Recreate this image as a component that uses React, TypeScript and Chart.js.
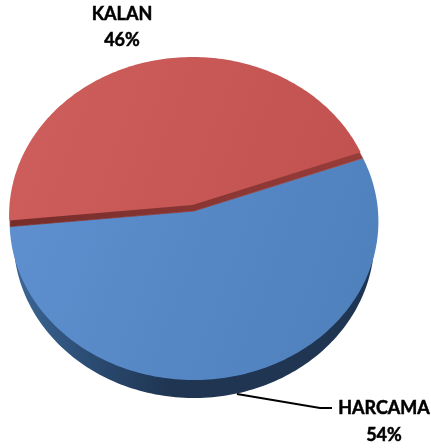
import React, { useEffect, useRef } from "react";
import { Chart, registerables } from "chart.js";

Chart.register(...registerables);

const categories = ["HARCAMA", "KALAN"];
const values = [54, 46];
const topColorStops = [
  ["#6090d0", "#4f81bd"],
  ["#cd5e5c", "#bf504d"],
];
const cutColorStops = ["#732b29", "#9c3f3c"];

const CENTER_X = [194, 192.5];
const APEX_Y = [211, 205];
const RADIUS_X = [184, 183];
const WALL_RX = 180;
const RY = 157.8;
const K = 0.0663;
const DEPTH = 18;

function sector(
  ctx: CanvasRenderingContext2D,
  a0: number,
  a1: number,
  cx: number,
  cy: number,
  rx: number
) {
  ctx.beginPath();
  ctx.moveTo(cx, cy);
  const n = 160;
  for (let i = 0; i <= n; i++) {
    const a = a0 + ((a1 - a0) * i) / n;
    const u = Math.cos(a);
    const v = -Math.sin(a);
    const w = 1 + K * v;
    ctx.lineTo(cx + (rx * u) / w, cy - (RY * v) / w);
  }
  ctx.closePath();
}

function grad(ctx: CanvasRenderingContext2D, stops: string[]) {
  const g = ctx.createLinearGradient(10, 120, 378, 260);
  g.addColorStop(0, stops[0]);
  g.addColorStop(1, stops[1]);
  return g;
}

const pie3d = {
  id: "pie3d",
  beforeDatasetsDraw(chart: any) {
    const ctx: CanvasRenderingContext2D = chart.ctx;
    const arcs = chart.getDatasetMeta(0).data;
    const blue = arcs[0];
    const red = arcs[1];
    ctx.save();
    // side wall of the large slice
    sector(ctx, blue.startAngle, blue.endAngle, CENTER_X[0], APEX_Y[0] + DEPTH, WALL_RX);
    const wall = ctx.createLinearGradient(20, 0, 170, 0);
    wall.addColorStop(0, "#3a6593");
    wall.addColorStop(0.5, "#2a4a70");
    wall.addColorStop(1, "#1f3552");
    ctx.fillStyle = wall;
    ctx.fill();
    // top of the large slice
    sector(ctx, blue.startAngle, blue.endAngle, CENTER_X[0], APEX_Y[0], RADIUS_X[0]);
    ctx.fillStyle = grad(ctx, topColorStops[0]);
    ctx.fill();
    // cut face of the lifted slice, sharing its lower edges with the large slice
    sector(ctx, red.startAngle, red.endAngle, CENTER_X[0], APEX_Y[0], RADIUS_X[0] - 0.5);
    const cut = grad(ctx, cutColorStops);
    ctx.fillStyle = cut;
    ctx.strokeStyle = cut;
    ctx.lineWidth = 0.8;
    ctx.fill();
    ctx.stroke();
    // top of the lifted slice
    sector(ctx, red.startAngle, red.endAngle, CENTER_X[1], APEX_Y[1], RADIUS_X[1]);
    ctx.fillStyle = grad(ctx, topColorStops[1]);
    ctx.fill();

    // leader line
    ctx.strokeStyle = "#000000";
    ctx.lineWidth = 2;
    ctx.beginPath();
    ctx.moveTo(237, 394);
    ctx.lineTo(320, 408);
    ctx.lineTo(332, 408);
    ctx.stroke();

    // labels
    ctx.fillStyle = "#000000";
    ctx.strokeStyle = "#000000";
    ctx.lineWidth = 0.5;
    ctx.font = "bold 18px Lato";
    ctx.textAlign = "center";
    ctx.textBaseline = "alphabetic";
    const total = values.reduce((s, x) => s + x, 0);
    const pct = (i: number) => `${Math.round((values[i] / total) * 100)}%`;
    const label = (t: string, x: number, y: number) => {
      ctx.fillText(t, x, y);
      ctx.strokeText(t, x, y);
    };
    label(categories[1], 122, 20);
    label(pct(1), 122, 46);
    label(categories[0], 384, 414);
    label(pct(0), 384, 441);
    ctx.restore();
    return false;
  },
};

export default function App() {
  const ref = useRef<HTMLCanvasElement>(null);
  useEffect(() => {
    const chart = new Chart(ref.current as HTMLCanvasElement, {
      type: "pie",
      data: {
        labels: categories,
        datasets: [{ data: values, backgroundColor: ["#4f81bd", "#c0504d"], borderWidth: 0 }],
      },
      options: {
        animation: false,
        responsive: false,
        rotation: 70,
        plugins: { legend: { display: false }, tooltip: { enabled: false } },
      },
      plugins: [pie3d],
    } as any);
    return () => chart.destroy();
  }, []);
  return (
    <div style={{ position: "fixed", left: 0, top: 0, width: 431, height: 448, background: "#fff" }}>
      <canvas ref={ref} width={431} height={448} style={{ display: "block" }} />
    </div>
  );
}
